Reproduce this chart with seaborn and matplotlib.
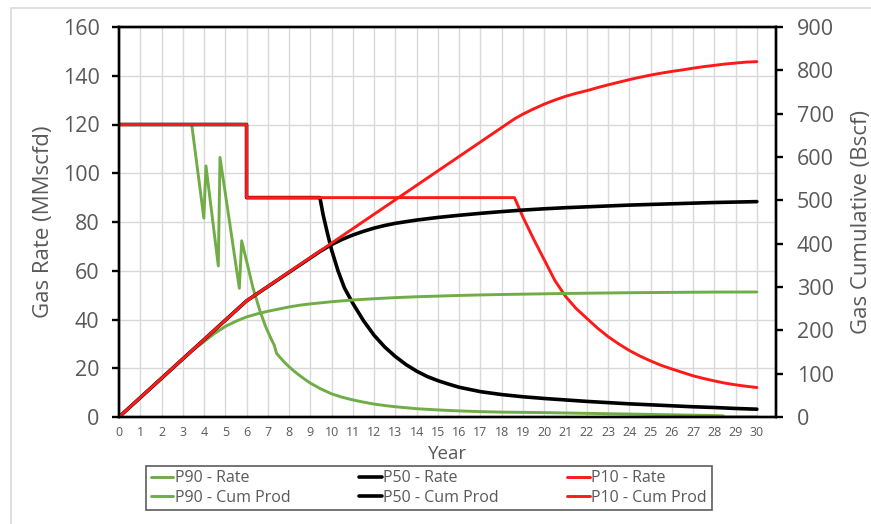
import numpy as np
import pandas as pd
import seaborn as sns
import matplotlib.pyplot as plt
from matplotlib.patches import Rectangle

# --- data (x in years) ---
p90_rate_x = [0, 3.42, 3.99, 4.09, 4.67, 4.75, 5.66, 5.77, 6.0, 6.3, 6.63, 6.9, 7.18, 7.3, 7.41,
              7.6, 7.8, 8.0, 8.25, 8.5, 8.75, 9.0, 9.5, 10.0, 10.5, 11.0, 11.5, 12.0, 12.5, 13.0,
              14.0, 15.0, 16.0, 17.0, 18.0, 20.0, 22.0, 24.0, 26.0, 28.0, 28.4, 28.5, 30.0]
p90_rate_y = [120, 120, 81.6, 103, 62, 106.5, 52.8, 72.3, 64, 53, 43.5, 37, 31.6, 29.5, 26.1,
              24.2, 22.3, 20.6, 18.7, 17.0, 15.4, 13.9, 11.5, 9.5, 8.1, 7.0, 6.1, 5.3, 4.7, 4.2,
              3.4, 2.9, 2.5, 2.2, 2.0, 1.8, 1.5, 1.2, 0.9, 0.6, 0.5, 0, 0]

p50_rate_x = [0, 6, 6, 9.45, 9.6, 9.8, 10.0, 10.3, 10.6, 11.0, 11.5, 12.0, 12.5, 13.0, 13.5, 14.0,
              14.5, 15.0, 15.5, 16.0, 17.0, 18.0, 19.0, 20.0, 21.0, 22.0, 23.0, 24.0, 25.0, 26.0,
              27.0, 28.0, 29.0, 30.0]
p50_rate_y = [120, 120, 90, 90, 83, 75.5, 68.5, 60, 53, 46.6, 39.5, 33.5, 28.7, 24.8, 21.5, 18.8,
              16.6, 14.9, 13.5, 12.2, 10.4, 9.2, 8.3, 7.6, 7.0, 6.4, 5.9, 5.4, 5.0, 4.6,
              4.2, 3.9, 3.5, 3.2]

p10_rate_x = [0, 6, 6, 18.6, 18.8, 19.0, 19.5, 20.0, 20.5, 21.0, 21.5, 22.0, 22.5, 23.0, 23.5,
              24.0, 24.5, 25.0, 25.5, 26.0, 26.5, 27.0, 27.5, 28.0, 28.5, 29.0, 29.5, 30.0]
p10_rate_y = [120, 120, 90, 90, 86, 82, 73, 64.5, 56, 49.5, 44.5, 40.5, 36.5, 33, 30,
              27.3, 25, 23, 21.2, 19.7, 18.3, 16.9, 15.8, 14.8, 13.9, 13.2, 12.6, 12.1]

p90_cum_x = [0, 3.42, 4.0, 4.5, 5.0, 5.5, 6.0, 6.5, 7.0, 7.5, 8.0, 8.5, 9.0, 10.0, 11.0, 12.0,
             13.0, 14.0, 15.0, 16.0, 17.0, 18.0, 20.0, 22.0, 24.0, 26.0, 28.0, 30.0]
p90_cum_y = [0, 152.5, 174, 193, 209, 221, 231, 238, 244, 249, 254, 258, 261, 266, 270, 273,
             275.5, 277.5, 279, 280.5, 281.7, 282.7, 284.3, 285.7, 286.8, 287.6, 288.3, 288.5]

p50_cum_x = [0, 6, 9.45, 10.0, 10.5, 11.0, 11.5, 12.0, 12.5, 13.0, 14.0, 15.0, 16.0, 17.0, 18.0,
             19.0, 20.0, 21.0, 22.0, 23.0, 24.0, 25.0, 26.0, 27.0, 28.0, 29.0, 30.0]
p50_cum_y = [0, 268, 382, 398, 410, 420, 428.5, 436, 442, 447, 454.5, 460.5, 465.5, 470, 474,
             477.5, 480.5, 483, 485, 487, 489, 490.5, 492, 493.5, 495, 496, 497]

p10_cum_x = [0, 6, 18.6, 19.0, 19.5, 20.0, 20.5, 21.0, 21.5, 22.0, 22.5, 23.0, 23.5, 24.0, 24.5,
             25.0, 25.5, 26.0, 26.5, 27.0, 27.5, 28.0, 28.5, 29.0, 29.5, 30.0]
p10_cum_y = [0, 268, 688, 699, 711, 722, 731.5, 740, 747, 753, 760, 766.5, 772.5, 778.5, 784,
             789, 793.5, 797.5, 801, 805, 808.5, 811.5, 814.5, 816.8, 819, 820]

year_ticks = list(range(0, 31))
rate_ticks = list(range(0, 161, 20))
cum_ticks = list(range(0, 901, 100))

GREEN = '#70AD47'
RED = '#FF1A1A'
BLACK = '#000000'
TXT = '#595959'

sns.set_style("white")
plt.rcParams['font.family'] = ['Open Sans', 'DejaVu Sans']

fig = plt.figure(figsize=(8.71, 5.24), dpi=100)
ax = fig.add_axes([119 / 871, 1 - 417 / 524, (776 - 119) / 871, (417 - 27) / 524])
ax2 = ax.twinx()

# light frame around the whole chart
fig.patches.append(Rectangle((11 / 871, -0.05), 1.1, 1 - 8 / 524 + 0.05, transform=fig.transFigure,
                             fill=False, edgecolor='#d9d9d9', linewidth=1.2, zorder=0))

kw = dict(estimator=None, sort=False, legend=False)
sns.lineplot(x=p90_rate_x, y=p90_rate_y, ax=ax, color=GREEN, linewidth=2.1, label='P90 - Rate', **kw)
sns.lineplot(x=p50_rate_x, y=p50_rate_y, ax=ax, color=BLACK, linewidth=2.6, label='P50 - Rate', **kw)
sns.lineplot(x=p10_rate_x, y=p10_rate_y, ax=ax, color=RED, linewidth=2.1, label='P10 - Rate', **kw)
sns.lineplot(x=p90_cum_x, y=p90_cum_y, ax=ax2, color=GREEN, linewidth=2.1, label='P90 - Cum Prod', **kw)
sns.lineplot(x=p50_cum_x, y=p50_cum_y, ax=ax2, color=BLACK, linewidth=2.6, label='P50 - Cum Prod', **kw)
sns.lineplot(x=p10_cum_x, y=p10_cum_y, ax=ax2, color=RED, linewidth=2.1, label='P10 - Cum Prod', **kw)

ax.set_xlim(0, 30.9)
ax.set_ylim(0, 160)
ax2.set_ylim(0, 900)
ax.set_xticks(year_ticks)
ax.set_yticks(rate_ticks)
ax2.set_yticks(cum_ticks)

ax.grid(True, color='#d9d9d9', linewidth=1.0)
ax.set_axisbelow(True)
ax2.grid(False)

for a in (ax, ax2):
    for s in a.spines.values():
        s.set_color('black')
        s.set_linewidth(1.7)
        s.set_visible(True)

ax.tick_params(axis='x', direction='out', length=3.6, width=1.4, color='black',
               labelsize=9, labelcolor=TXT, pad=3)
ax.tick_params(axis='y', direction='out', length=5, width=1.7, color='black',
               labelsize=15.5, labelcolor=TXT, pad=9, left=True)
ax2.tick_params(axis='y', direction='out', length=5, width=1.7, color='black',
                labelsize=15.5, labelcolor=TXT, pad=10, right=True)

ax.set_xlabel('Year', fontsize=13.5, color=TXT, labelpad=4)
ax.set_ylabel('Gas Rate (MMscfd)', fontsize=16, color=TXT, labelpad=6)
ax2.set_ylabel('Gas Cumulative (Bscf)', fontsize=16, color=TXT, labelpad=12)

h1, l1 = ax.get_legend_handles_labels()
h2, l2 = ax2.get_legend_handles_labels()
handles = [h1[0], h2[0], h1[1], h2[1], h1[2], h2[2]]
labels = [l1[0], l2[0], l1[1], l2[1], l1[2], l2[2]]
leg = fig.legend(handles, labels, ncol=3, loc='center', bbox_to_anchor=(429 / 871, 1 - 488 / 524),
                 frameon=True, fancybox=False, edgecolor='#333333', fontsize=11.5,
                 labelcolor=TXT, handlelength=1.4, handletextpad=0.1, columnspacing=4.3,
                 labelspacing=0.2, borderpad=0.3)
leg.get_frame().set_linewidth(1.2)

fig.savefig('out.png', dpi=100)
